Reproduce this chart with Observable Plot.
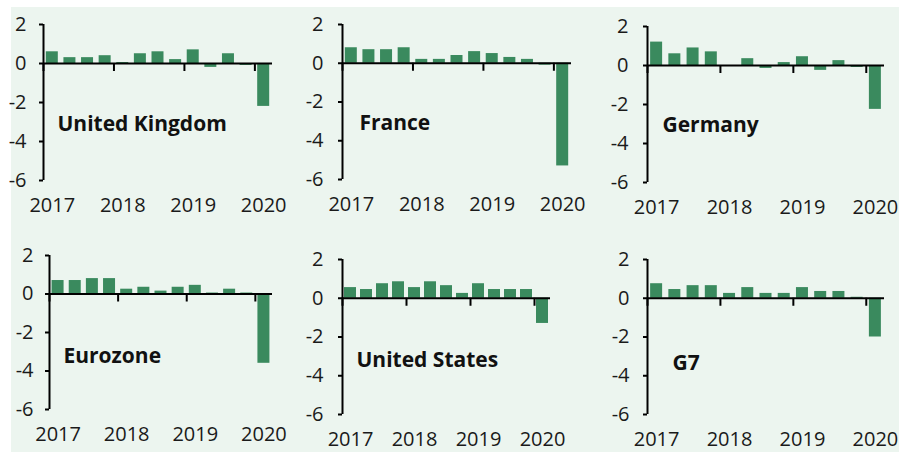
<!DOCTYPE html>
<html><head><meta charset="utf-8">
<script src="https://cdn.jsdelivr.net/npm/d3@7"></script>
<script src="https://cdn.jsdelivr.net/npm/@observablehq/plot@0.6"></script>
<style>
html,body{margin:0;padding:0;background:#fff;}
#bg{position:absolute;left:11px;top:7px;width:888px;height:445px;background:#ecf5ef;}
.panel{position:absolute;}
</style></head><body>
<div id="bg"></div>
<div id="root"></div>
<script>
// Quarterly GDP growth, % q/q, 2017 Q1 – 2020 Q1
const quarters = ["2017Q1","2017Q2","2017Q3","2017Q4","2018Q1","2018Q2","2018Q3","2018Q4","2019Q1","2019Q2","2019Q3","2019Q4","2020Q1"];
const yearLabels = ["2017","2018","2019","2020"];
const yTicks = [2, 0, -2, -4, -6];
const countries = ["United Kingdom","France","Germany","Eurozone","United States","G7"];
const ukGrowth      = [0.6, 0.3, 0.3, 0.4, 0.05, 0.5, 0.6, 0.2, 0.7, -0.2, 0.5, -0.1, -2.2];
const franceGrowth  = [0.8, 0.7, 0.7, 0.8, 0.2, 0.2, 0.4, 0.6, 0.5, 0.3, 0.2, -0.1, -5.3];
const germanyGrowth = [1.2, 0.6, 0.9, 0.7, 0.0, 0.35, -0.15, 0.15, 0.45, -0.25, 0.25, -0.1, -2.25];
const eurozoneGrowth= [0.7, 0.7, 0.8, 0.8, 0.25, 0.35, 0.15, 0.35, 0.45, 0.05, 0.25, 0.05, -3.6];
const usGrowth      = [0.55, 0.45, 0.75, 0.85, 0.55, 0.85, 0.65, 0.25, 0.75, 0.45, 0.45, 0.45, -1.3];
const g7Growth      = [0.75, 0.45, 0.65, 0.65, 0.25, 0.55, 0.25, 0.25, 0.55, 0.35, 0.35, 0.05, -2.0];
const seriesList = [ukGrowth, franceGrowth, germanyGrowth, eurozoneGrowth, usGrowth, g7Growth];

// panel layout (pixel frame of each small multiple)
const layout = [
  {left: 43,  top: 24,  right: 272, bottom: 180, pad: 13, labelY: -3.1, dx: 14},
  {left: 342, top: 24,  right: 571, bottom: 179, pad: 15, labelY: -3.1, dx: 17},
  {left: 647, top: 26,  right: 884, bottom: 182, pad: 15, labelY: -3.05, dx: 15},
  {left: 49,  top: 255, right: 272, bottom: 409, pad: 12, labelY: -3.25, dx: 14},
  {left: 342, top: 259, right: 550, bottom: 414, pad: 15, labelY: -3.2, dx: 14},
  {left: 647, top: 259, right: 884, bottom: 414, pad: 14, labelY: -3.35, dx: 25}
];

const ML = 50, MT = 14, MR = 4, MB = 42;
const barColor = "#3a8a5e";
const ink = "#1a1a1a";
const root = document.getElementById("root");

countries.forEach((name, k) => {
  const L = layout[k];
  const data = seriesList[k].map((v, i) => ({q: quarters[i], i, v}));
  const plotW = L.right - L.left;
  const step = plotW / quarters.length;
  const inset = Math.max(0, (step - 12) / 2);
  const yearStarts = yearLabels.map(y => quarters.indexOf(y + "Q1"));
  const chart = Plot.plot({
    width: plotW + ML + MR,
    height: (L.bottom - L.top) + MT + MB,
    marginLeft: ML, marginTop: MT, marginRight: MR, marginBottom: MB,
    x: {domain: [0, quarters.length], axis: null},
    y: {domain: [-6, 2], axis: null},
    style: {background: "transparent", fontFamily: "'Open Sans', 'Noto Sans', sans-serif", color: ink, overflow: "visible"},
    marks: [
      Plot.rectY(data, {x1: "i", x2: d => d.i + 1, y1: 0, y2: "v", fill: barColor, insetLeft: inset, insetRight: inset}),
      Plot.ruleY([0], {stroke: "#000", strokeWidth: 2}),
      Plot.ruleX([0], {stroke: "#000", strokeWidth: 2}),
      Plot.ruleX(yearStarts, {x: d => d, y1: 0, y2: 0, insetBottom: -8, stroke: "#000", strokeWidth: 2}),
      Plot.axisY(yTicks, {anchor: "left", label: null, tickFormat: d => String(d), tickSize: 4, tickPadding: L.pad, fontSize: 20, stroke: "#000", strokeWidth: 2, fill: ink}),
      Plot.text(yearLabels, {x: (d, j) => yearStarts[j] + 0.5, frameAnchor: "bottom", dy: 31, fontSize: 20, fill: ink}),
      Plot.text([name], {x: 0, y: L.labelY, dx: L.dx, textAnchor: "start", fontWeight: "bold", fontSize: 21, fill: "#111"})
    ]
  });
  const div = document.createElement("div");
  div.className = "panel";
  div.style.left = (L.left - ML) + "px";
  div.style.top = (L.top - MT) + "px";
  div.appendChild(chart);
  root.appendChild(div);
});
</script>
</body></html>
